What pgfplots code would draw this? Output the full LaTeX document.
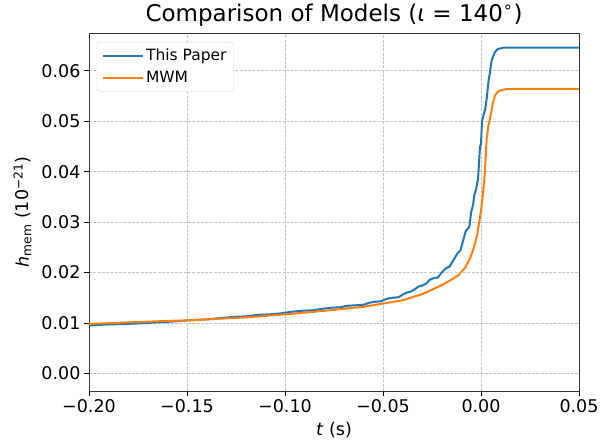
\documentclass[border=0pt]{standalone}
\usepackage{fontspec}
\setmainfont{DejaVu Sans}
\usepackage{pgfplots}
\pgfplotsset{compat=1.18}

\definecolor{mplblue}{HTML}{1F77B4}
\definecolor{mplorange}{HTML}{FF7F0E}
\definecolor{gridgray}{HTML}{C4C4C4}

\begin{document}
\begin{tikzpicture}
  \useasboundingbox (0,0) rectangle (608pt,442pt);
  \begin{axis}[
    at={(89pt,51pt)}, anchor=south west,
    scale only axis,
    width=490pt, height=358pt,
    xmin=-0.2, xmax=0.05,
    ymin=-0.0035, ymax=0.0675,
    xtick={-0.2,-0.15,-0.1,-0.05,0,0.05},
    xticklabels={−0.20,−0.15,−0.10,−0.05,0.00,0.05},
    ytick={0,0.01,0.02,0.03,0.04,0.05,0.06},
    yticklabels={0.00,0.01,0.02,0.03,0.04,0.05,0.06},
    scaled y ticks=false,
    tick label style={font=\fontsize{17.5}{20}\selectfont},
    tick align=outside,
    tick pos=left,
    major tick length=5pt,
    every tick/.style={black, line width=0.8pt},
    axis line style={black!80, line width=0.8pt},
    grid=major,
    major grid style={gridgray, line width=0.8pt, dash pattern=on 3pt off 1.3pt},
    title={Comparison of Models (\textit{ι} = 140\textsuperscript{∘})},
    title style={font=\fontsize{23}{27}\selectfont, yshift=-3pt},
    xlabel={\textit{t} (s)},
    ylabel={\textit{h}\textsubscript{mem} (10\textsuperscript{−21})},
    label style={font=\fontsize{17.5}{20}\selectfont},
    xlabel style={yshift=-3pt},
    ylabel style={yshift=3pt},
    legend style={at={(0.016,0.975)}, anchor=north west, draw=gray!35, rounded corners=2pt,
      font=\fontsize{15.5}{18}\selectfont, inner xsep=5pt, inner ysep=5pt, row sep=5pt},
    legend cell align=left,
    legend image code/.code={
      \draw[#1, line width=1.8pt] (0pt,0pt) -- (33pt,0pt);
      \path (0pt,0pt) -- (40pt,0pt);
    },
  ]

  % This Paper
  \addplot[color=mplblue, line width=2pt] coordinates {
    (-0.200, 0.0095) (-0.190, 0.0097) (-0.180, 0.0098) (-0.170, 0.0100)
    (-0.160, 0.0102) (-0.150, 0.0105) (-0.140, 0.0107) (-0.132, 0.0110)
    (-0.126, 0.0112) (-0.120, 0.0113) (-0.114, 0.0116) (-0.108, 0.0117)
    (-0.102, 0.0119) (-0.097, 0.0122) (-0.092, 0.0124) (-0.086, 0.0125)
    (-0.081, 0.0128) (-0.077, 0.0130) (-0.072, 0.0131) (-0.068, 0.0134)
    (-0.064, 0.0135) (-0.060, 0.0136) (-0.057, 0.0140) (-0.054, 0.0142)
    (-0.051, 0.0143) (-0.048, 0.0148) (-0.045, 0.0150) (-0.042, 0.0151)
    (-0.040, 0.0156) (-0.038, 0.0160) (-0.036, 0.0162) (-0.034, 0.0166)
    (-0.032, 0.0172) (-0.030, 0.0174) (-0.028, 0.0178) (-0.026, 0.0186)
    (-0.024, 0.0189) (-0.022, 0.0190) (-0.020, 0.0200) (-0.018, 0.0208)
    (-0.016, 0.0212) (-0.014, 0.0225) (-0.012, 0.0238) (-0.0105, 0.0244)
    (-0.009, 0.0265) (-0.0077, 0.0283) (-0.0060, 0.0290) (-0.0050, 0.0320)
    (-0.0040, 0.0335) (-0.0035, 0.0352) (-0.0025, 0.0365) (-0.0015, 0.0386)
    (-0.0005, 0.0450) (0.0000, 0.0455) (0.0005, 0.0500) (0.0015, 0.0515)
    (0.0022, 0.0525) (0.0029, 0.0545) (0.0040, 0.0585) (0.0046, 0.0597)
    (0.0054, 0.0620) (0.0063, 0.0630) (0.0071, 0.0637) (0.0085, 0.0643)
    (0.0114, 0.0646) (0.0500, 0.0646)
  };
  \addlegendentry{This Paper}

  % MWM
  \addplot[color=mplorange, line width=2pt] coordinates {
    (-0.200, 0.0098) (-0.180, 0.0101) (-0.160, 0.0104) (-0.150, 0.0105)
    (-0.140, 0.0107) (-0.120, 0.0111) (-0.100, 0.0117) (-0.080, 0.0124)
    (-0.060, 0.0132) (-0.046, 0.0141) (-0.040, 0.0145) (-0.030, 0.0157)
    (-0.025, 0.0166) (-0.020, 0.0175) (-0.015, 0.0186) (-0.0117, 0.0194)
    (-0.008, 0.0210) (-0.0056, 0.0228) (-0.004, 0.0245) (-0.002, 0.0273)
    (-0.0005, 0.0310) (0.0000, 0.0322) (0.0003, 0.0333) (0.0010, 0.0355)
    (0.0020, 0.0400) (0.0029, 0.0465) (0.0037, 0.0490) (0.0046, 0.0505)
    (0.0060, 0.0535) (0.0071, 0.0551) (0.0085, 0.0558) (0.0097, 0.0561)
    (0.0120, 0.0563) (0.0150, 0.0564) (0.0500, 0.0564)
  };
  \addlegendentry{MWM}
  \end{axis}
\end{tikzpicture}
\end{document}
